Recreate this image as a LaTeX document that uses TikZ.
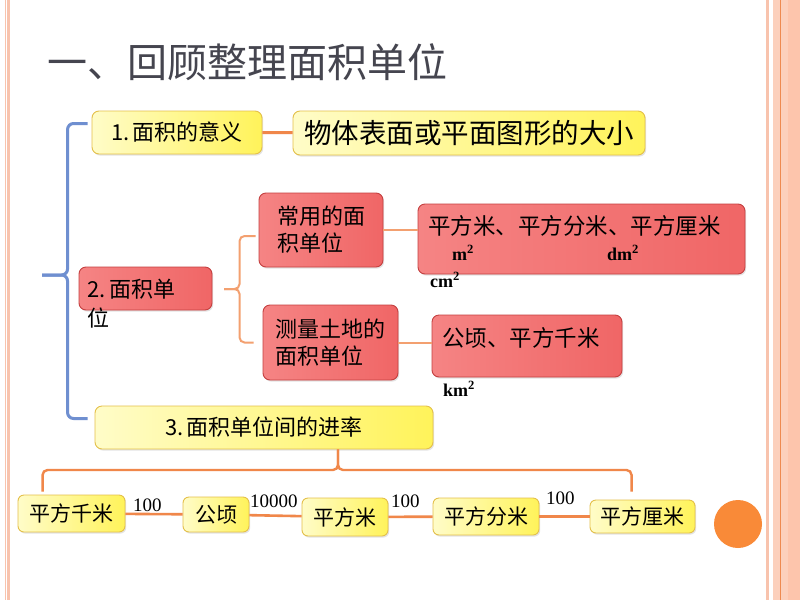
\documentclass[tikz,border=0pt]{standalone}
\usepackage{fontspec}
\setmainfont{Noto Sans CJK SC}
\newfontfamily\numfont{Liberation Serif}
\newfontfamily\unitfont{Liberation Serif}
\usetikzlibrary{shadows,calc}
\newcommand\myfs[2]{\fontsize{#1}{#2}\selectfont}
\definecolor{titlegray}{HTML}{45454F}
\definecolor{salmon}{HTML}{F8C3AD}
\definecolor{salmonband}{HTML}{FCD0BC}
\definecolor{salmondeep}{HTML}{FDC5AC}
\definecolor{bandline}{HTML}{EE8A50}
\definecolor{ybord}{HTML}{E4C04A}
\definecolor{ylight}{HTML}{FFFCC8}
\definecolor{ydark}{HTML}{FFF35A}
\definecolor{rbord}{HTML}{C44040}
\definecolor{rleft}{HTML}{F58484}
\definecolor{rmid}{HTML}{FCE4E4}
\definecolor{rright}{HTML}{F06666}
\definecolor{bluebr}{HTML}{6F8FD0}
\definecolor{orline}{HTML}{F0874A}
\definecolor{orlight}{HTML}{F3A070}
\definecolor{dotc}{HTML}{F98A38}
\tikzset{
  box/.style={rounded corners=7pt, line width=0.9pt, inner sep=0pt,
    drop shadow={shadow xshift=1.2pt, shadow yshift=-1.6pt, opacity=0.22}},
  ybox/.style={box, draw=ybord, left color=ylight, right color=ydark},
  rbox/.style={box, draw=rbord, left color=rleft, middle color=rmid, right color=rright},
  txt/.style={inner sep=0pt, text=black},
  unit/.style={txt, font=\unitfont\bfseries\myfs{18}{18}},
  rate/.style={txt, font=\numfont\myfs{19}{19}},
  conn/.style={draw=orline, line width=3pt},
  thinconn/.style={draw=orlight, line width=2pt},
  bluebrace/.style={draw=bluebr, line width=3pt, rounded corners=6pt},
  obrace/.style={draw=orlight, line width=2pt, rounded corners=5pt},
  lbrace/.style={draw=orline, line width=2.4pt, rounded corners=5pt},
}
\begin{document}
\begin{tikzpicture}[x=1pt,y=-1pt]
\useasboundingbox (0,0) rectangle (800,600);
\fill[white] (0,0) rectangle (800,600);
% page borders
\fill[salmon] (5,0) rectangle (6.4,600);
\fill[salmon] (7.4,0) rectangle (10.2,600);
\fill[salmon] (766,0) rectangle (768.6,600);
\fill[salmonband] (773,0) rectangle (800,600);
\fill[salmondeep] (788,0) rectangle (800,600);
\draw[bandline, line width=1pt] (780.5,0) -- (780.5,600);

% title
\node[txt, anchor=base west, text=titlegray, font=\myfs{40}{40}] (title) at (47,77) {一、回顾整理面积单位};

% level 1
\node[ybox, minimum width=170pt, minimum height=43pt, font=\myfs{22}{27}] (n1) at (177,132.5) {1.\,面积的意义};
\node[ybox, minimum width=352pt, minimum height=44pt, font=\myfs{27.5}{30}] (n1b) at (469,133) {物体表面或平面图形的大小};
\draw[conn] (n1) -- (n1b);

\node[rbox, minimum width=133pt, minimum height=43pt] (n2) at (145.5,288.5) {};
\node[txt, anchor=base west, font=\myfs{22}{22}] (n2a) at (87,297) {2.\,面积单};
\node[txt, anchor=base west, font=\myfs{22}{22}] (n2b) at (87,326) {位};

\node[ybox, minimum width=338pt, minimum height=43pt, font=\myfs{22}{27}] (n3) at (264,427.5) {3.\,面积单位间的进率};

% blue brace
\coordinate (bt) at (42,275);
\draw[bluebrace] ($(n1.west)+(-4,-9)$) -- ++(-20,0) |- (bt);
\draw[bluebrace] ($(n3.west)+(-7,-9)$) -- ++(-20,0) |- (bt);

% level 2 (area units)
\node[rbox, minimum width=124pt, minimum height=74pt, align=left, font=\myfs{22}{27}] (c1) at (321,230) {常用的面\\积单位};
\node[rbox, minimum width=135pt, minimum height=75pt, align=left, font=\myfs{22}{27}] (c2) at (330.5,342.5) {测量土地的\\面积单位};
\coordinate (ot) at (224,289);
\draw[obrace] ($(c1.west)+(-3,6)$) -- ++(-16,0) |- (ot);
\draw[obrace] ($(c2.west)+(-9,0)$) -- ++(-14,0) |- (ot);

\node[rbox, minimum width=327pt, minimum height=70pt] (u1) at (581.5,239) {};
\node[txt, anchor=base west, font=\myfs{22.5}{22.5}] (u1t) at (428,234) {平方米、平方分米、平方厘米};
\node[unit, anchor=base west] (um) at (452,260) {m\textsuperscript{2}};
\node[unit, anchor=base west] (udm) at (607,260) {dm\textsuperscript{2}};
\node[unit, anchor=base west] (ucm) at (430,287) {cm\textsuperscript{2}};
\draw[thinconn] (c1.east) -- (c1.east -| u1.west);

\node[rbox, minimum width=190pt, minimum height=62pt] (u2) at (527,346) {};
\node[txt, anchor=base west, font=\myfs{22.5}{22.5}] (u2t) at (442,346) {公顷、平方千米};
\node[unit, anchor=base west] (ukm) at (443,396) {km\textsuperscript{2}};
\draw[thinconn] (c2.east) -- (c2.east -| u2.west);

% bottom chain
\tikzset{sbox/.style={ybox, rounded corners=6pt, font=\myfs{21}{21}}}
\node[sbox, minimum width=107pt, minimum height=37pt] (b1) at (71.5,513.5) {平方千米};
\node[sbox, minimum width=66pt, minimum height=35pt] (b2) at (216,514.5) {公顷};
\node[sbox, minimum width=86pt, minimum height=38pt] (b3) at (345,517) {平方米};
\node[sbox, minimum width=106pt, minimum height=37pt] (b4) at (486,516.5) {平方分米};
\node[sbox, minimum width=105pt, minimum height=33pt] (b5) at (642.5,516.5) {平方厘米};
\draw[conn, line width=2.6pt] (b1) -- (b2);
\draw[conn, line width=2.6pt] (b2) -- (b3);
\draw[conn, line width=2.6pt] (b3) -- (b4);
\draw[conn, line width=2.6pt] (b4) -- (b5);
\node[rate, anchor=base west] (r1) at (133,511) {100};
\node[rate, anchor=base west] (r2) at (250,507) {10000};
\node[rate, anchor=base west] (r3) at (391,507) {100};
\node[rate, anchor=base west] (r4) at (546,504) {100};

% lower brace
\coordinate (lt) at (n3.south -| 338,0);
\coordinate (lb1) at ($(b1.north west)+(25,-3)$);
\coordinate (lb5) at ($(b5.north west)+(42,-8)$);
\draw[lbrace] (lb1) |- (338,470) -- (lt);
\draw[lbrace] (lb5) |- (338,470) -- (lt);

% orange dot
\fill[dotc] (738,524) circle (24);
\end{tikzpicture}
\end{document}
